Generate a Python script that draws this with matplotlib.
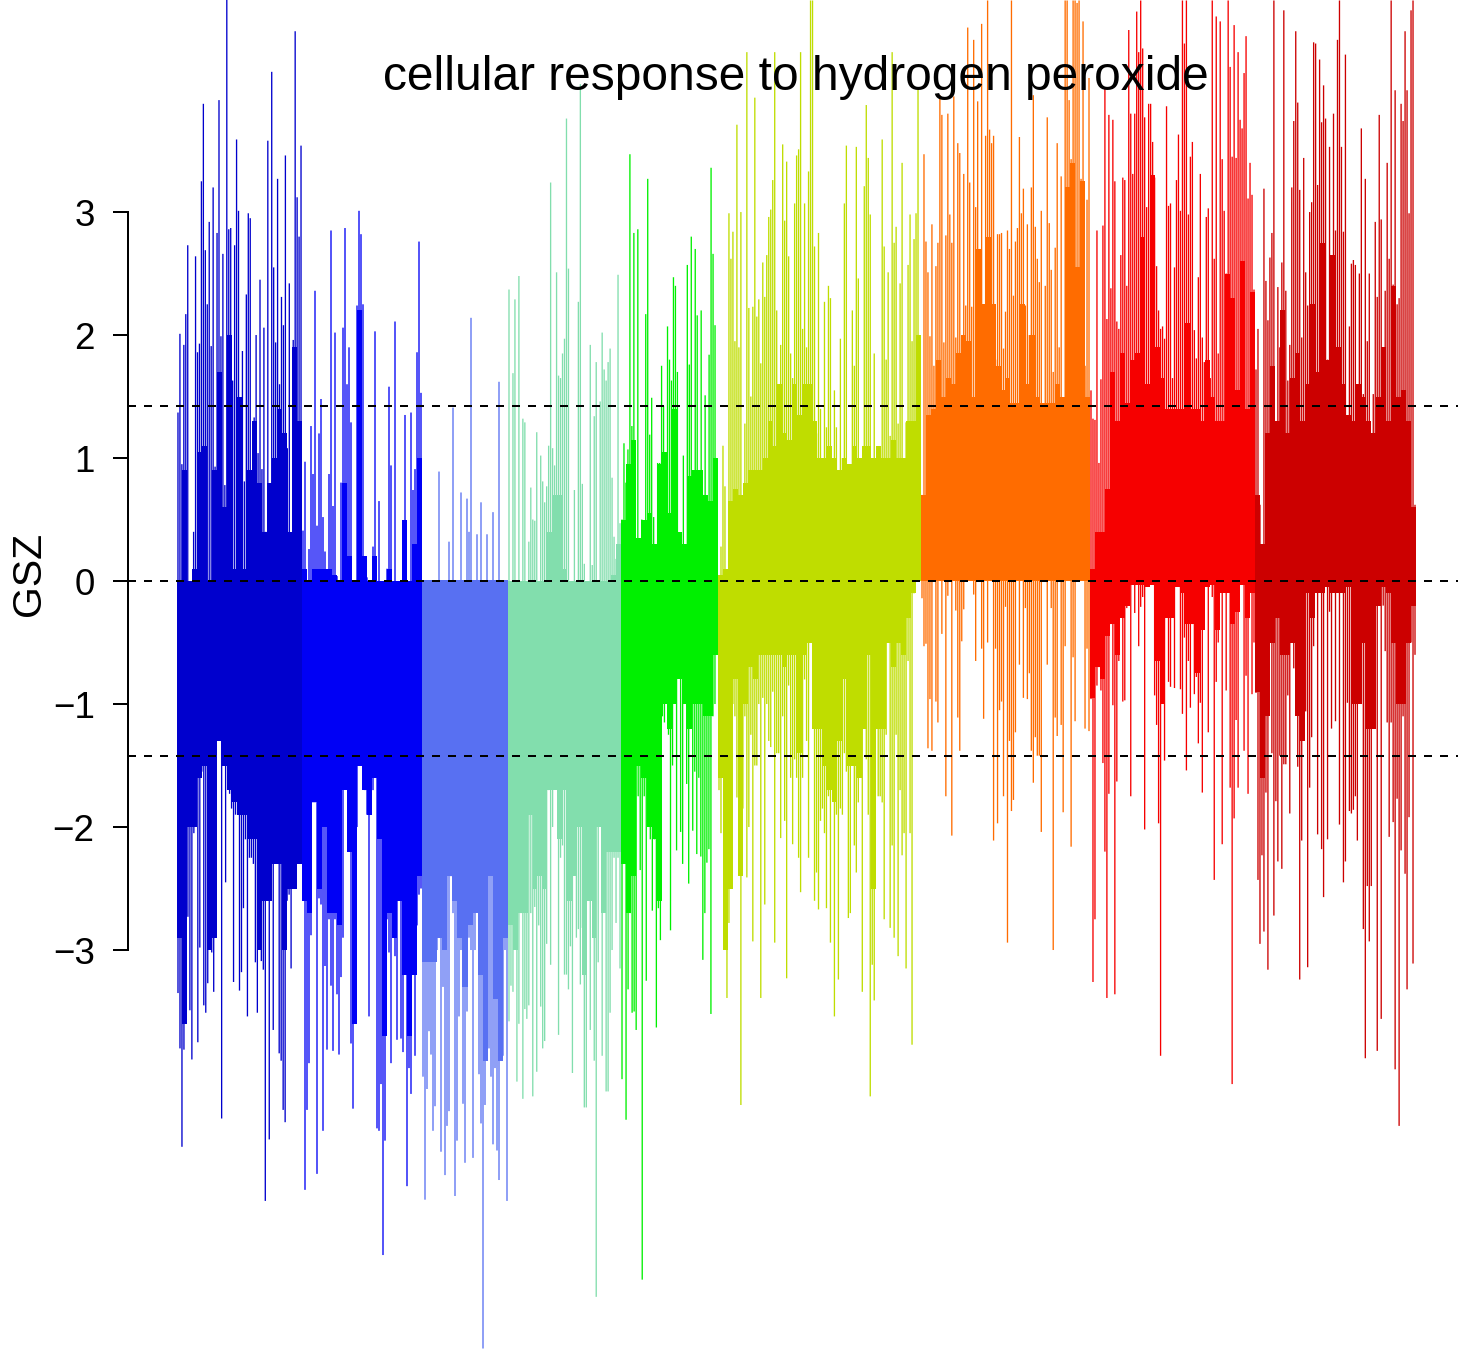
import numpy as np
import matplotlib
matplotlib.use('Agg')
import matplotlib.pyplot as plt

plt.rcParams['font.family'] = ['Liberation Sans', 'DejaVu Sans']

# gene counts per module, left to right
group_sizes = [125, 120, 86, 113, 97, 203, 169, 165, 161]
group_colors = ['#0000CD', '#0000F5', '#5870F2', '#82DEAD', '#00F000', '#BFDD00', '#FF6C00', '#F60000', '#CC0000']

# tallest bars, hundredths of GSZ
dkblue_up = [137,201,95,192,217,273,0,0,40,264,186,193,325,388,269,225,292,191,320,93,283,391,199,266,78,473,286,287,163,273,359,301,10,187,81,233,299,295,0,133,200,104,245,91,206,40,358,38,414,255,194,327,160,231,208,346,108,242,30,196,447,312,280,354]
dkblue_down = [335,380,460,381,190,273,349,389,205,190,375,298,155,345,351,327,150,302,334,90,125,130,437,135,245,30,173,185,326,190,100,333,318,266,210,354,225,225,230,310,351,265,309,316,504,100,454,150,365,230,230,384,390,430,440,260,255,315,245,245,225,80,80]
blue_up = [41,97,0,26,126,87,236,45,120,148,52,24,0,87,285,61,202,4,0,80,206,287,160,190,129,0,0,224,301,282,225,0,3,0,0,28,203,0,65,0,0,0,10,158,94,0,211,0,0,0,49,135,0,0,137,74,91,186,276,153]
blue_down = [77,495,430,392,288,180,180,482,258,263,447,313,381,275,329,382,275,336,385,322,290,130,165,220,376,429,349,200,150,30,140,170,190,354,190,170,60,445,447,409,548,455,275,302,392,200,305,373,260,372,383,205,492,396,417,318,386,280,255,250]
peri_up = [0,0,0,0,0,0,0,0,89,0,0,0,0,32,0,141,0,0,0,72,0,0,67,40,214,0,0,38,0,64,0,0,38,0,0,56,0,0,162,0,0,0,0]
peri_down = [403,503,413,366,385,447,427,300,240,464,330,483,443,431,240,270,500,455,354,300,425,473,350,290,300,469,300,240,401,441,624,426,320,380,403,458,396,463,487,330,386,300,504]
aqua_up = [237,0,169,229,0,248,0,132,129,0,32,76,50,49,121,0,102,81,64,77,110,324,108,94,251,167,165,185,197,376,254,0,0,74,0,227,404,79,14,0,0,192,13,134,178,0,146,202,172,163,178,189,84,36,18,249,47]
aqua_down = [358,329,334,250,407,360,270,421,348,356,345,270,419,265,399,280,346,380,374,295,170,312,200,55,150,369,225,215,320,320,332,297,400,238,290,283,328,282,428,428,260,365,240,390,582,310,195,386,260,415,415,351,300,225,278,225,315]
green_up = [50,112,80,107,347,126,283,0,286,24,50,30,217,327,119,149,52,10,96,96,175,142,104,207,180,163,247,240,170,28,8,102,10,257,176,280,90,270,216,40,220,70,151,65,184,336,266,208,81]
green_down = [405,230,438,332,270,351,350,365,175,235,568,175,325,170,210,268,210,363,266,292,110,115,90,125,284,150,70,219,60,204,230,100,165,246,120,203,155,222,160,224,308,270,229,218,352,110,100,60]
yellow_up = [0,28,110,77,6,299,262,284,195,371,190,300,60,128,430,222,150,223,393,215,229,177,259,231,265,296,302,326,430,220,150,192,355,293,341,264,185,165,307,346,351,430,205,307,190,333,472,472,272,120,283,140,45,227,125,240,230,70,155,125,60,197,100,307,354,70,45,220,175,353,246,97,74,321,387,344,298,50,185,93,60,80,359,272,180,251,118,430,275,288,128,242,340,86,129,257,298,195,278,299,400,200]
yellow_down = [170,205,75,165,339,278,202,100,110,176,95,426,185,110,241,200,125,293,150,150,100,339,95,263,100,130,135,90,294,140,140,209,110,195,323,85,160,214,145,160,225,253,160,80,130,225,50,0,260,237,267,195,185,205,266,175,294,160,354,190,324,185,190,140,155,274,270,100,215,237,180,160,334,95,145,190,419,312,341,10,175,175,180,275,125,20,282,215,290,125,305,170,223,205,315,65,205,377,10,0,0,0]
orange_up = [70,347,276,251,199,290,175,256,275,395,379,194,281,380,298,275,394,198,356,348,200,331,224,450,324,223,440,304,390,270,453,150,362,472,367,356,362,180,282,282,283,189,219,285,270,472,232,276,287,361,299,319,224,290,200,320,395,288,262,243,301,140,240,377,291,253,170,271,356,190,329,148,472,472,391,343,472,472,470,472,327,455,175,310,409]
orange_down = [14,53,51,136,96,138,0,98,115,0,43,0,175,12,0,207,0,24,111,138,49,23,0,0,0,0,11,65,0,0,55,112,0,50,0,0,211,55,197,105,98,175,21,294,130,187,178,123,0,68,0,95,22,96,75,138,164,127,142,142,204,0,0,68,0,22,300,111,126,0,117,188,53,0,0,216,62,114,0,0,0,0,120,55,122]
red_up = [155,132,131,285,96,164,289,400,213,379,238,375,325,211,205,265,328,326,240,448,380,331,380,463,430,472,433,377,304,388,388,357,328,256,220,205,207,197,386,305,307,165,255,326,363,301,472,437,472,298,345,357,204,181,247,331,198,178,296,303,165,472,262,459,185,455,343,301,250,472,418,345,452,344,430,375,368,413,443,311,340,314,237]
red_down = [96,326,275,85,70,89,148,220,339,173,35,101,336,163,65,28,98,97,22,0,175,0,26,0,53,21,13,202,0,0,0,0,93,117,197,386,72,146,20,82,86,0,87,0,0,88,108,46,154,65,103,35,92,78,132,99,172,0,0,123,3,13,243,82,50,0,214,0,89,0,168,409,193,113,168,0,0,138,77,173,0,92,50]
dkred_up = [172,205,62,1,319,244,212,263,283,472,126,239,190,259,464,236,163,192,320,374,447,389,318,198,344,251,224,300,308,438,437,322,424,373,403,376,180,353,265,380,285,440,472,353,284,428,135,207,258,261,257,50,250,368,152,327,195,250,65,152,292,231,379,294,190,236,340,262,472,241,399,225,230,388,374,447,399,299,464,472,62]
dkred_down = [91,243,295,223,285,172,316,40,140,272,179,228,142,234,149,149,93,189,37,71,85,151,324,211,3,106,314,168,127,53,0,206,0,218,257,0,210,25,120,0,114,8,198,0,245,228,99,187,189,186,175,211,80,100,283,388,248,293,248,53,13,382,0,356,20,57,115,208,115,196,397,177,443,219,110,238,332,192,50,311,60]

# level of the solid part under the spikes, GSZ
dkblue_body_up = [0,.9,0,.1,1.05,1.1,0,.9,1.7,.6,2.0,.1,1.5,.1,.9,1.3,.8,.4,.8,1.0,1.4,1.2,.4,1.9,1.3]
dkblue_body_down = [-2.9,-3.6,-2.0,-2.0,-1.6,-1.5,-3.0,-2.9,-1.3,-1.5,-1.7,-1.8,-1.9,-1.9,-2.1,-2.1,-3.0,-2.6,-2.6,-2.3,-2.3,-3.0,-2.5,-2.5,-2.3]
blue_body_up = [.1,0,.1,.1,.1,.1,.05,0,.8,.2,0,2.2,.2,0,.2,0,0,.1,0,0,.5,0,.3,1.0]
blue_body_down = [-2.6,-2.7,-1.8,-2.5,-2.0,-2.7,-2.7,-2.8,-1.7,-2.2,-3.6,-1.5,-1.7,-1.9,-1.6,-2.1,-3.7,-2.7,-2.9,-2.6,-3.2,-3.7,-3.2,-2.4]
peri_body_up = [0.01]
peri_body_down = [-3.1,-3.1,-3.1,-2.9,-3.0,-2.4,-2.6,-2.9,-3.3,-2.8,-2.7,-3.2,-3.9,-2.4,-3.4,-3.9,-2.9]
aqua_body_up = [0,0,0,0,0,0,0,0,.4,.7,.7,.1,0,0,0,0,0,0,0,0,0,.05,.3]
aqua_body_down = [-2.8,-3.0,-2.7,-2.7,-1.9,-2.5,-2.4,-2.5,-1.7,-1.7,-2.1,-1.7,-2.6,-2.4,-2.0,-3.2,-2.6,-2.9,-2.0,-2.7,-2.2,-2.2,-2.2]
green_body_up = [.5,.95,1.15,.35,.5,.55,.3,.95,1.05,.55,1.4,.4,.3,.85,.9,.9,.7,.65,1.0]
green_body_down = [-2.3,-2.7,-2.4,-1.5,-1.6,-2.0,-2.1,-2.6,-1.0,-1.2,-1.0,-.8,-1.0,-1.2,-1.0,-1.0,-1.1,-1.1,-.6]
yellow_body_up = [.05,.1,.65,.75,.7,.8,.9,.9,.9,1.0,1.3,1.1,1.6,1.2,1.15,1.6,1.35,1.6,1.6,1.3,1.0,1.0,1.1,1.0,.9,1.0,.95,1.1,1.0,1.1,1.1,1.0,1.1,1.0,1.0,1.15,1.0,1.0,1.3,1.3,2.0]
yellow_body_down = [-1.6,-3.0,-2.5,-.8,-2.4,-1.0,-.7,-.8,-.6,-.6,-.6,-.6,-.6,-.7,-.6,-.6,-1.4,-.6,-.5,-1.2,-1.2,-1.5,-1.7,-1.8,-1.3,-.8,-1.5,-1.5,-1.6,-1.2,-.6,-2.5,-1.2,-1.2,-.5,-.7,-.5,-.6,-.3,-.1,0]
orange_body_up = [.7,1.35,1.4,1.8,1.5,1.65,1.6,1.85,2.0,1.95,1.5,2.7,2.25,2.8,2.25,1.75,1.55,1.65,1.45,1.45,2.25,1.6,2.0,1.5,1.45,1.45,1.45,1.6,1.5,3.2,3.4,2.55,3.25,1.5]
orange_body_down = [0]
red_body_up = [.1,.4,.4,.75,1.7,1.3,1.85,1.45,1.8,1.85,2.8,1.6,3.3,1.9,1.65,1.4,1.4,1.4,1.4,2.1,1.4,1.4,1.3,1.8,1.5,1.3,1.3,2.5,2.3,1.55,2.6,1.4,2.35]
red_body_down = [-.95,-.7,-.8,-.45,-.35,-.6,-.3,-.2,-.03,-.03,-.03,-.05,-.03,-.65,-1.0,-.3,-.3,-.05,-.1,-.35,-.35,-.75,-.4,-.05,-.03,-.4,-.1,-.1,-.35,-.25,-.03,-.3,-.1]
dkred_body_up = [.7,.3,1.2,1.75,1.3,2.2,1.2,1.65,1.85,1.3,1.6,2.25,1.7,2.75,1.8,2.65,1.9,1.6,1.35,1.3,1.6,1.5,1.3,1.2,1.5,1.9,1.3,2.4,1.5,1.55,1.3,.6]
dkred_body_down = [-.9,-1.6,-1.1,-.5,-.3,-.6,-.6,-.5,-1.1,-1.3,-.1,-.3,-.1,-.1,-.05,-.1,-.1,-.1,-.05,-1.0,-1.0,-.5,-1.2,-1.2,-.2,-.05,-.1,-.5,-1.0,-1.0,-.5,-.2]

spikes_up = [dkblue_up, blue_up, peri_up, aqua_up, green_up, yellow_up, orange_up, red_up, dkred_up]
spikes_down = [dkblue_down, blue_down, peri_down, aqua_down, green_down, yellow_down, orange_down, red_down, dkred_down]
bodies_up = [dkblue_body_up, blue_body_up, peri_body_up, aqua_body_up, green_body_up, yellow_body_up, orange_body_up, red_body_up, dkred_body_up]
bodies_down = [dkblue_body_down, blue_body_down, peri_body_down, aqua_body_down, green_body_down, yellow_body_down, orange_body_down, red_body_down, dkred_body_down]

threshold = 1.42
y_ticks = [-3, -2, -1, 0, 1, 2, 3]
axis_x = -49

fig = plt.figure(figsize=(14.58, 13.49), dpi=100)
ax = fig.add_axes([0, 0, 1, 1])
ax.set_xlim(-177, 1281)
ax.set_ylim(-6.244, 4.724)

starts = np.concatenate([[0], np.cumsum(group_sizes)[:-1]])
for i in range(len(group_sizes)):
    start, size, col = starts[i], group_sizes[i], group_colors[i]
    for body in (bodies_up[i], bodies_down[i]):
        w = size / len(body)
        x = start + (np.arange(len(body)) + 0.5) * w
        ax.bar(x, body, width=w, color=col, linewidth=0, antialiased=False)
    for vals, sign in ((spikes_up[i], 1), (spikes_down[i], -1)):
        x = start + (np.arange(len(vals)) + 0.5) * size / len(vals)
        ax.vlines(x, 0, sign * np.array(vals) / 100, colors=col, linewidth=0.95, antialiased=True, snap=False)

for h in (threshold, 0, -threshold):
    ax.hlines(h, axis_x, 1281, color='black', lw=1.44, linestyle=(0, (4, 4)), zorder=5)

for s in ('top', 'right', 'bottom'):
    ax.spines[s].set_visible(False)
ax.spines['left'].set_position(('data', axis_x))
ax.spines['left'].set_bounds(-3, 3)
ax.spines['left'].set_linewidth(1.44)
ax.patch.set_alpha(0)
ax.set_xticks([])
ax.set_yticks(y_ticks)
ax.set_yticklabels(['\u2212' + str(-t) if t < 0 else str(t) for t in y_ticks])
ax.tick_params(axis='y', length=11, width=1.44, pad=13, labelsize=26.5)

fig.text(29 / 1458, 1 - 574 / 1349, 'GSZ', rotation=90, ha='center', va='center', fontsize=29.5)
fig.text(796 / 1458, 1 - 77 / 1349, 'cellular response to hydrogen peroxide', ha='center', va='center', fontsize=34.5)

fig.savefig('out.png', dpi=100)
